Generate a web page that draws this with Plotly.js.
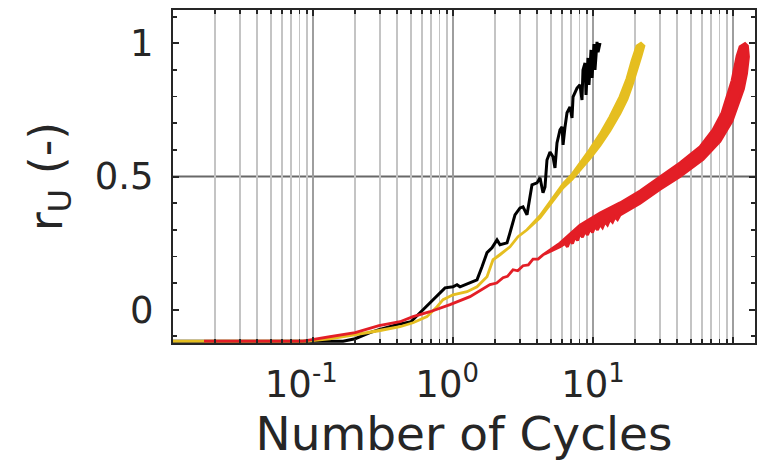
<!DOCTYPE html>
<html>
<head>
<meta charset="utf-8">
<script src="https://cdn.plot.ly/plotly-3.0.1.min.js"></script>
<style>
  html, body { margin: 0; padding: 0; background: #ffffff; }
  #chart { width: 761px; height: 464px; }
</style>
</head>
<body>
<div id="chart"></div>
<script>
// ---- data ----
// Black series (traced centerline incl. its saw-tooth oscillations)
const blackX = [0.01, 0.164, 0.2, 0.255, 0.296, 0.398, 0.501, 0.581, 0.685, 0.808, 0.877, 1.0, 1.068, 1.122, 1.218, 1.484, 1.611, 1.749, 1.899, 2.062, 2.166, 2.431, 2.553, 2.772, 3.01, 3.162, 3.378, 3.548, 3.665, 3.981, 4.182, 4.393, 4.54, 4.69, 4.93, 5.18, 5.35, 5.53, 5.81, 6.01, 6.11, 6.31, 6.52, 6.85, 7.08, 7.2, 7.69, 8.07, 8.34, 8.48, 8.77, 8.91, 9.21, 9.36, 9.68, 9.84, 10.17, 10.33, 10.68, 10.86, 11.22];
const blackY = [-0.118, -0.118, -0.109, -0.086, -0.075, -0.056, -0.045, -0.011, 0.026, 0.067, 0.082, 0.086, 0.094, 0.086, 0.094, 0.112, 0.161, 0.214, 0.232, 0.262, 0.244, 0.251, 0.289, 0.356, 0.382, 0.386, 0.356, 0.427, 0.469, 0.476, 0.495, 0.439, 0.461, 0.562, 0.592, 0.574, 0.532, 0.626, 0.675, 0.686, 0.619, 0.686, 0.739, 0.761, 0.72, 0.799, 0.832, 0.844, 0.787, 0.9, 0.926, 0.806, 0.945, 0.844, 0.975, 0.87, 0.997, 0.9, 1.005, 0.967, 1.001];

// Yellow series: thin part, then upper / lower edge of its oscillation band
const yellowX = [0.01, 0.0906, 0.132, 0.2, 0.296, 0.418, 0.518, 0.652, 0.769, 0.849, 1.0, 1.259, 1.484, 1.749, 1.931, 2.166, 2.553, 2.912, 3.378];
const yellowY = [-0.118, -0.118, -0.109, -0.094, -0.079, -0.064, -0.049, -0.026, 0.011, 0.0375, 0.056, 0.0675, 0.086, 0.124, 0.1875, 0.206, 0.236, 0.274, 0.3];
const yellowUpX = [3.378, 4.182, 4.93, 6.11, 7.08, 8.07, 9.52, 11.22, 13.2, 15.6, 17.5, 19.0, 20.6, 22.0];
const yellowUpY = [0.3, 0.3525, 0.406, 0.472, 0.508, 0.549, 0.602, 0.659, 0.724, 0.8, 0.868, 0.935, 0.99, 1.0];
const yellowLoX = [3.378, 4.182, 4.93, 6.11, 7.08, 8.07, 9.52, 11.22, 13.2, 15.6, 17.5, 19.0, 20.6, 22.0, 23.1];
const yellowLoY = [0.3, 0.345, 0.396, 0.458, 0.49, 0.523, 0.568, 0.617, 0.672, 0.737, 0.79, 0.842, 0.898, 0.951, 0.99];

// Red series: thin part, then upper / lower edge of its oscillation band
const redX = [0.01665, 0.0849, 0.132, 0.2, 0.296, 0.418, 0.518, 0.685, 0.952, 1.322, 1.837, 2.05, 2.276, 2.45, 2.683, 2.9, 3.162, 3.45, 3.727, 4.05, 4.393];
const redY = [-0.118, -0.118, -0.101, -0.086, -0.06, -0.045, -0.026, -0.0075, 0.019, 0.049, 0.094, 0.1, 0.12, 0.125, 0.15, 0.146, 0.165, 0.168, 0.19, 0.19, 0.206];
const redUpX = [4.393, 5.81, 8.07, 11.22, 15.6, 21.7, 30.1, 41.8, 58.1, 71.9, 83.4, 98.4, 106.8, 112.2, 121.8];
const redUpY = [0.206, 0.25, 0.317, 0.363, 0.401, 0.446, 0.499, 0.551, 0.611, 0.675, 0.739, 0.86, 0.952, 0.987, 0.999];
const redLoX = [4.393, 5.81, 6.31, 6.57, 6.85, 7.14, 7.44, 7.75, 8.07, 8.41, 8.77, 9.14, 9.52, 9.92, 10.33, 10.77, 11.22, 11.69, 12.18, 12.69, 13.2, 13.78, 14.36, 14.96, 15.6, 21.7, 30.1, 41.8, 61.1, 80.7, 98.4, 109.5, 118.8, 124.9, 129, 126.8];
const redLoY = [0.206, 0.236, 0.248, 0.236, 0.261, 0.248, 0.273, 0.26, 0.2855, 0.272, 0.294, 0.281, 0.303, 0.29, 0.312, 0.299, 0.3205, 0.308, 0.33, 0.318, 0.339, 0.328, 0.348, 0.338, 0.355, 0.399, 0.452, 0.5, 0.564, 0.632, 0.708, 0.773, 0.829, 0.886, 0.95, 0.99];

// Axis labels / ticks
const xTickVals = [0.1, 1, 10, 100];
const xTickText = ['10<sup>-1</sup>&nbsp;&nbsp;', '10<sup>0</sup>&nbsp;', '10<sup>1</sup>', '10<sup>2</sup>'];
const yTickVals = [0, 0.5, 1];
const yTickText = ['0', '0.5', '1'];
const refLineY = 0.5;
const xTitle = 'Number of Cycles';
const yTitle = 'r<sub>U</sub> (-)';

// ---- styling ----
const COL_BLACK = '#000000';
const COL_YELLOW = '#E5BE20';
const COL_RED = '#E31E26';
const AXIS_COL = '#262626';
const FONT = 'DejaVu Sans, Liberation Sans, Arial, sans-serif';

// minor log tick positions (2..9 in each decade)
const minorVals = [];
for (let e = -2; e <= 2; e++) {
  for (let m = 2; m <= 9; m++) minorVals.push(m * Math.pow(10, e));
}

function bandTrace(tx, ty, ux, uy, lx, ly, color) {
  const x = tx.concat(ux, lx.slice().reverse(), tx.slice().reverse());
  const y = ty.concat(uy, ly.slice().reverse(), ty.slice().reverse());
  return {
    x: x, y: y, type: 'scatter', mode: 'lines',
    fill: 'toself', fillcolor: color,
    line: { color: color, width: 2.8, shape: 'linear' },
    hoverinfo: 'skip', showlegend: false
  };
}

const traces = [
  { x: blackX, y: blackY, type: 'scatter', mode: 'lines',
    line: { color: COL_BLACK, width: 3 }, hoverinfo: 'skip', showlegend: false },
  bandTrace(yellowX, yellowY, yellowUpX, yellowUpY, yellowLoX, yellowLoY, COL_YELLOW),
  bandTrace(redX, redY, redUpX, redUpY, redLoX, redLoY, COL_RED)
];

const layout = {
  width: 761, height: 464,
  margin: { l: 173, r: 6, t: 10, b: 121, pad: 0 },
  paper_bgcolor: '#ffffff', plot_bgcolor: '#ffffff',
  font: { family: FONT, color: AXIS_COL },
  showlegend: false,
  xaxis: {
    type: 'log', range: [-2, 2.157],
    tickmode: 'array', tickvals: xTickVals, ticktext: xTickText,
    ticks: 'inside', ticklen: 6, tickwidth: 2, tickcolor: AXIS_COL,
    showline: true, linecolor: AXIS_COL, linewidth: 2, mirror: 'ticks',
    showgrid: true, gridcolor: '#9e9e9e', gridwidth: 1.8,
    zeroline: false,
    tickfont: { family: FONT, size: 37, color: AXIS_COL },
    ticklabelstandoff: 8,
    minor: {
      tickmode: 'array', tickvals: minorVals,
      ticks: 'inside', ticklen: 4, tickwidth: 1.8, tickcolor: AXIS_COL,
      showgrid: true, gridcolor: '#c4c4c4', gridwidth: 1.8
    },
    title: { text: xTitle, font: { family: FONT, size: 47, color: AXIS_COL }, standoff: 10 }
  },
  yaxis: {
    range: [-0.125, 1.125],
    tickmode: 'array', tickvals: yTickVals, ticktext: yTickText,
    ticks: 'inside', ticklen: 6, tickwidth: 2, tickcolor: AXIS_COL,
    showline: true, linecolor: AXIS_COL, linewidth: 2, mirror: 'ticks',
    showgrid: false, zeroline: false,
    tickfont: { family: FONT, size: 37, color: AXIS_COL },
    ticklabelstandoff: 10,
    minor: { dtick: 0.1, tick0: 0, ticks: 'inside', ticklen: 4, tickwidth: 1.8, tickcolor: AXIS_COL, showgrid: false },
    title: { text: yTitle, font: { family: FONT, size: 46, color: AXIS_COL }, standoff: 18 }
  },
  shapes: [{
    type: 'line', xref: 'paper', x0: 0, x1: 1, yref: 'y', y0: refLineY, y1: refLineY,
    line: { color: '#686868', width: 2 }, layer: 'below'
  }]
};

Plotly.newPlot('chart', traces, layout, { staticPlot: true, displayModeBar: false });
</script>
</body>
</html>
